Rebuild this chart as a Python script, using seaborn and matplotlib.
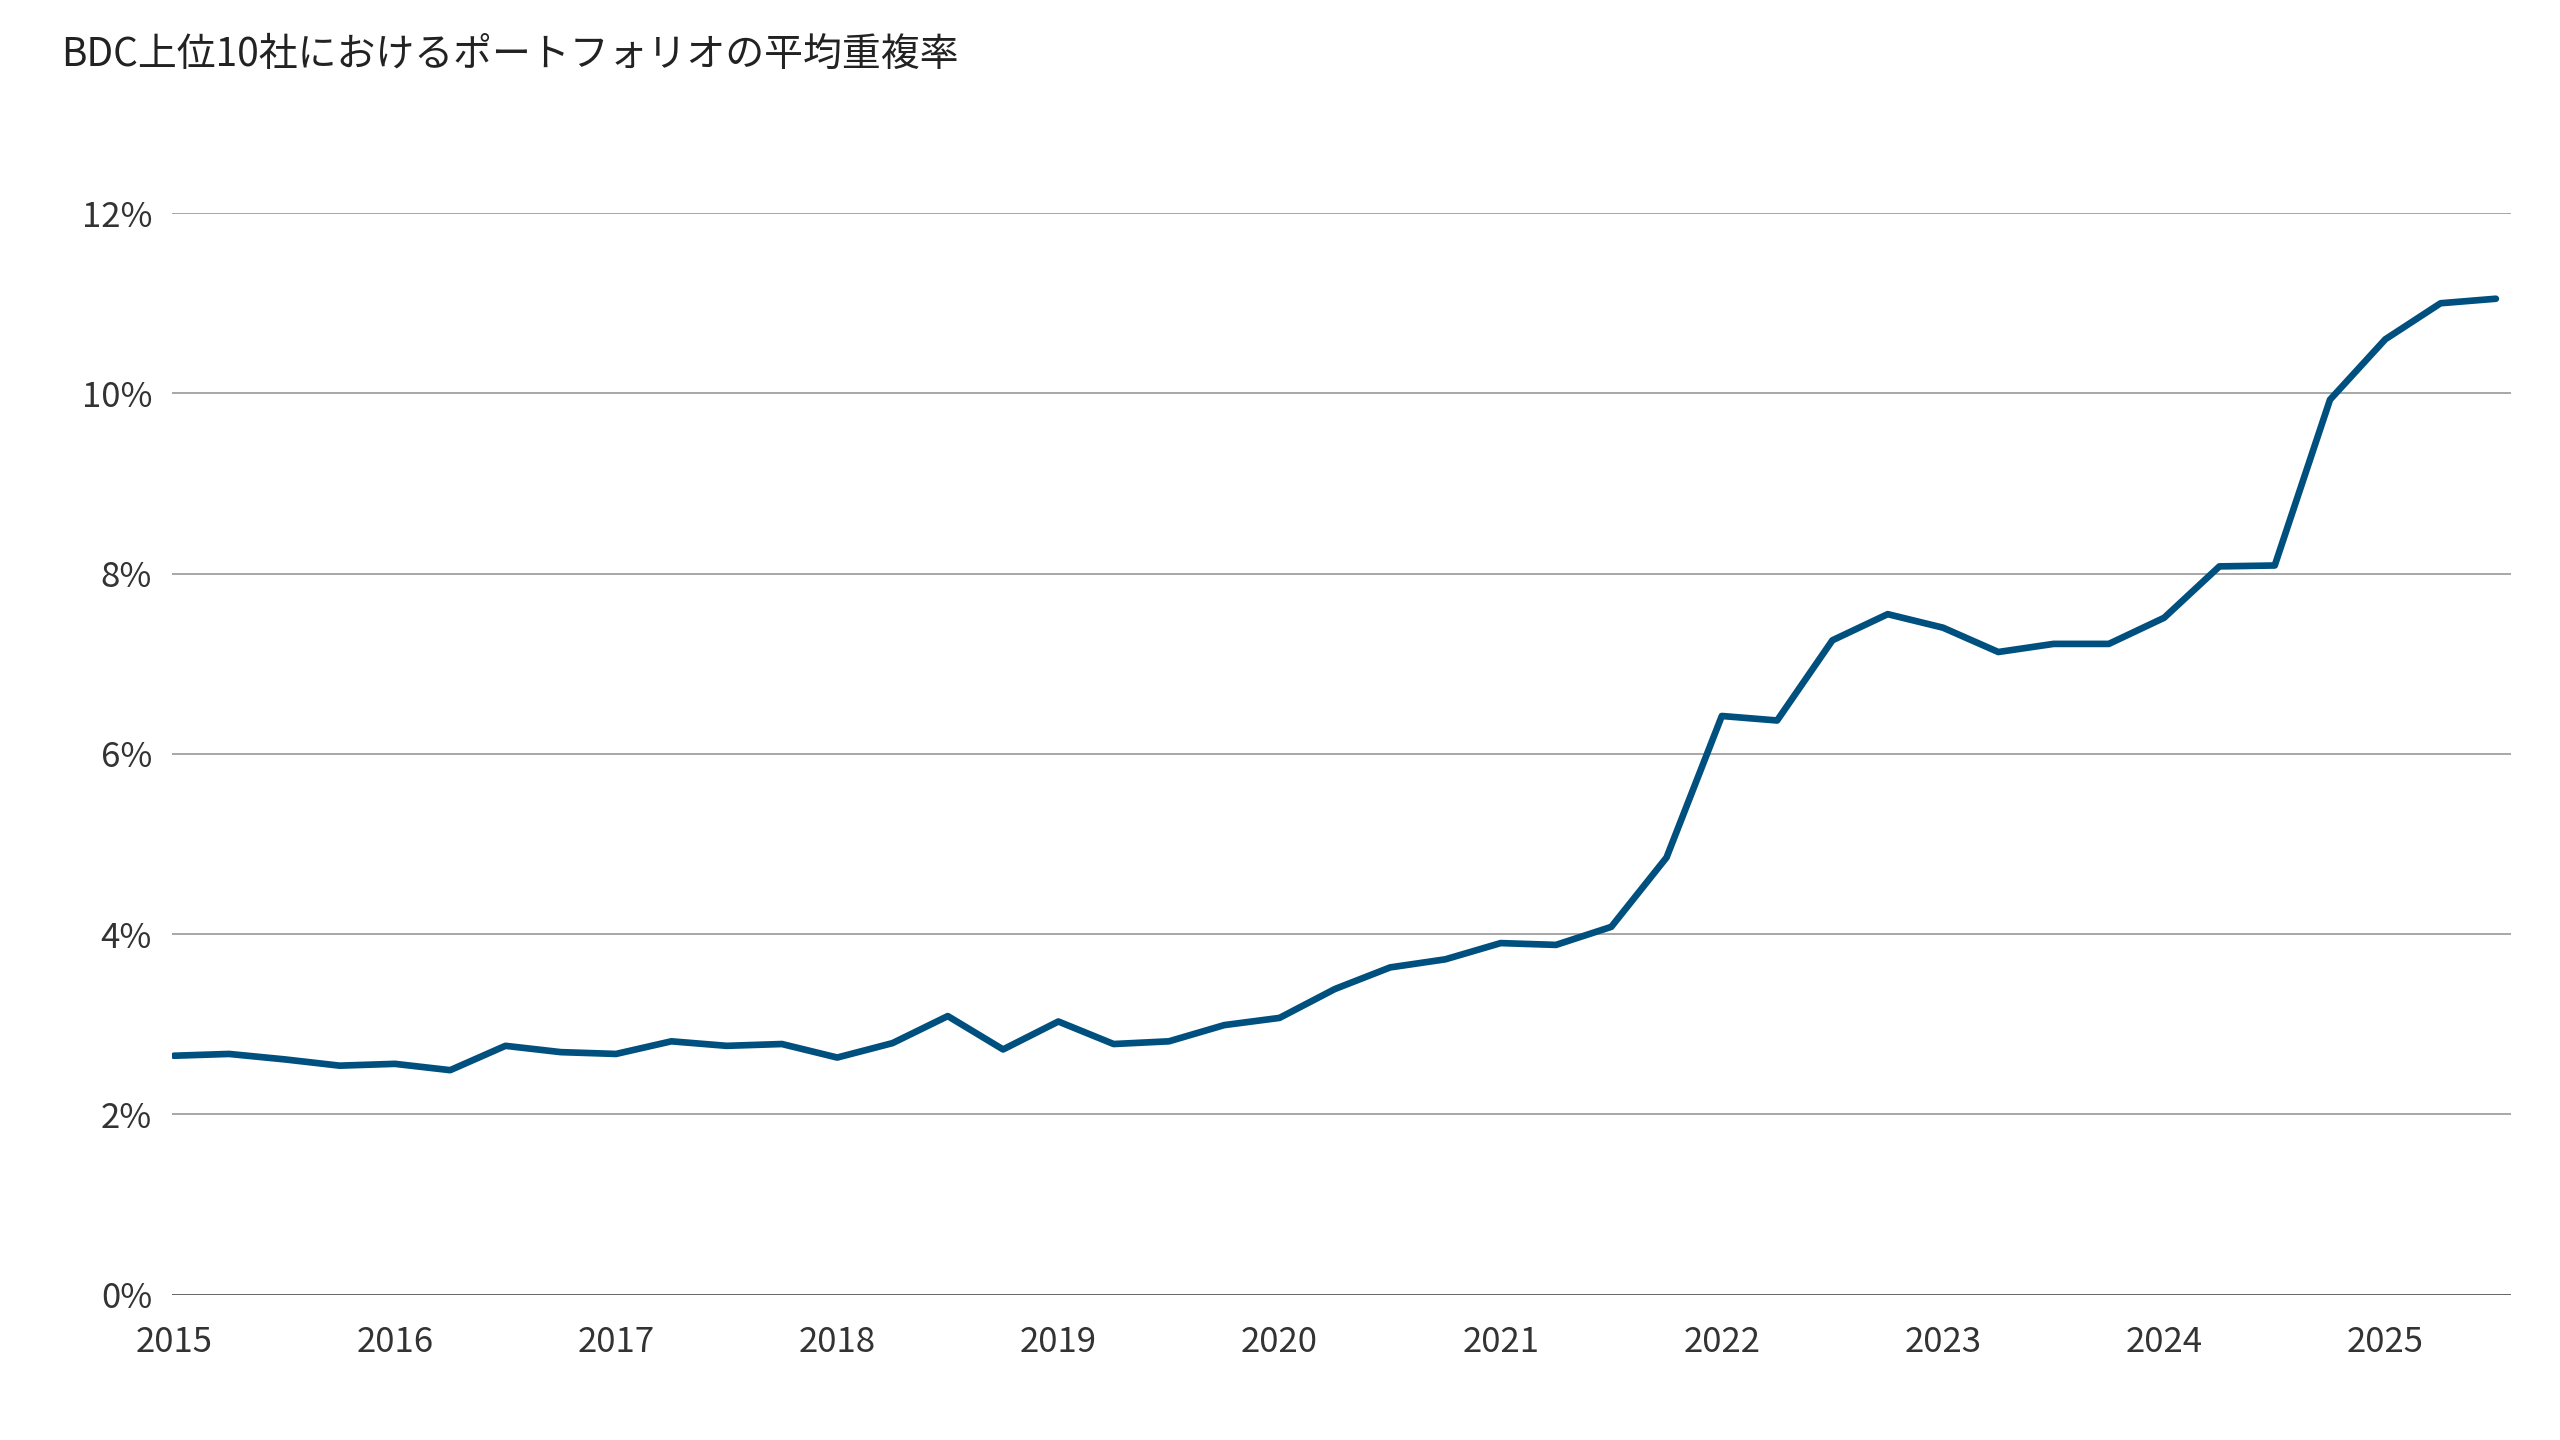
import pandas as pd
import matplotlib.pyplot as plt
import seaborn as sns

# 四半期ごとの平均重複率 (%), 2015Q1〜2025Q3
quarters = pd.date_range('2015-01-01', periods=43, freq='QS')
overlap = [2.65, 2.67, 2.61, 2.54, 2.56, 2.49, 2.76, 2.69, 2.67, 2.81, 2.76,
           2.78, 2.63, 2.79, 3.09, 2.72, 3.03, 2.78, 2.81, 2.99, 3.07, 3.39,
           3.63, 3.72, 3.90, 3.88, 4.08, 4.85, 6.42, 6.37, 7.26, 7.55, 7.40,
           7.13, 7.22, 7.22, 7.51, 8.08, 8.09, 9.93, 10.60, 11.00, 11.05]
years = list(range(2015, 2026))
title = 'BDC上位10社におけるポートフォリオの平均重複率'

df = pd.DataFrame({'date': quarters, 'overlap': overlap})
df['x'] = df['date'].dt.year + (df['date'].dt.month - 1) / 12

sns.set_theme(style='white')
plt.rcParams['font.family'] = ['Noto Sans CJK JP', 'DejaVu Sans']

fig = plt.figure(figsize=(25.6, 14.4), dpi=100)
ax = fig.add_axes([0.067, 0.101, 0.914, 0.751])

sns.lineplot(data=df, x='x', y='overlap', ax=ax, color='#00507f', linewidth=4.8)

ax.set_ylim(0, 12)
ax.set_xlim(2014.99, 2025.57)
ax.set_yticks(range(0, 13, 2))
ax.set_yticklabels([f'{v}%' for v in range(0, 13, 2)])
ax.set_xticks(years)
ax.set_xticklabels([str(y) for y in years])
ax.grid(axis='y', color='#a0a0a0', linewidth=1.3)
ax.axhline(0, color='#555555', linewidth=1.8)
for s in ax.spines.values():
    s.set_visible(False)
ax.tick_params(axis='both', length=0, labelsize=25, colors='#333333')
ax.tick_params(axis='x', pad=22)
ax.tick_params(axis='y', pad=14)
ax.set_xlabel('')
ax.set_ylabel('')

fig.text(0.024, 0.962, title, fontsize=28, color='#222222', va='center')

fig.savefig('out.png')
